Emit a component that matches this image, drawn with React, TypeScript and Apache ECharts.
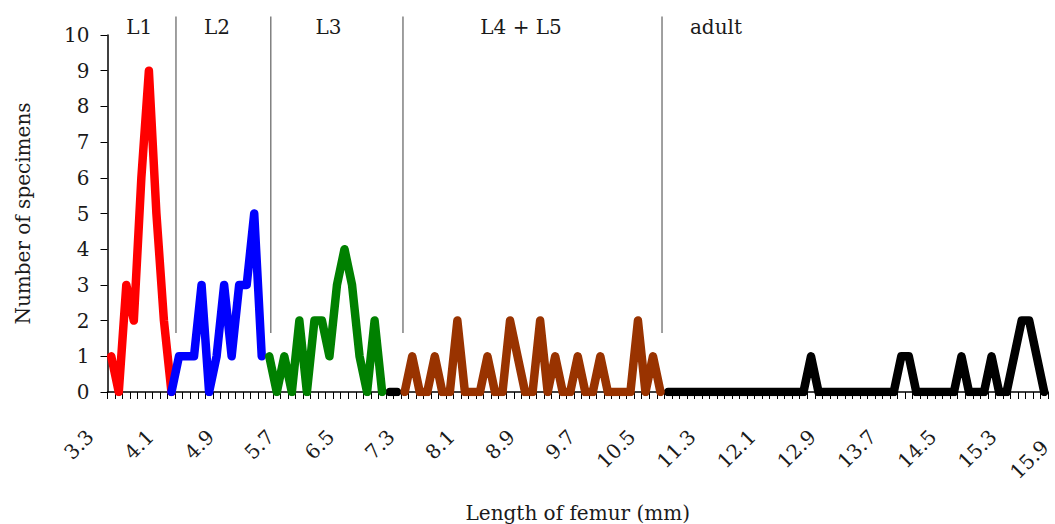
import React, { useEffect, useRef } from "react";
import * as echarts from "echarts";

// Femur length categories (mm): 3.3 … 15.6 in 0.1 mm steps, last category 15.9
const firstLength = 3.3;
const lengthStep = 0.1;
const regularCount = 124;
const lastLength = "15.9";
const categories: string[] = Array.from({ length: regularCount }, (_, i) =>
  (firstLength + lengthStep * i).toFixed(1)
).concat([lastLength]);

// Number of specimens per length, per stage (start = category index)
const l1Start = 0;
const l1Counts = [1, 0, 3, 2, 6, 9, 5, 2, 0];
const l2Start = 8;
const l2Counts = [0, 1, 1, 1, 3, 0, 1, 3, 1, 3, 3, 5, 1];
const l3Start = 21;
const l3Counts = [1, 0, 1, 0, 2, 0, 2, 2, 1, 3, 4, 3, 1, 0, 2, 0];
const l45Start = 39;
const l45Counts = [0, 1, 0, 0, 1, 0, 0, 2, 0, 0, 0, 1, 0, 0, 2, 1, 0, 0, 2, 0, 1, 0, 0, 1, 0, 0, 1, 0, 0, 0, 0, 2, 0, 1, 0];
const gapStart = 37;
const gapCounts = [0, 0];
const adultStart = 74;
const adultCounts = [
  0, 0, 0, 0, 0, 0, 0, 0, 0, 0, 0, 0, 0, 0, 0, 0, 0, 0, 0, 1, 0, 0, 0, 0, 0, 0, 0, 0, 0, 0, 0, 1, 1, 0, 0, 0, 0, 0, 0,
  1, 0, 0, 0, 1, 0, 0, 1, 2, 2, 1, 0,
];

// Stage annotations (positions in category-slot units from the axis start)
const stageNames = ["L1", "L2", "L3", "L4 + L5", "adult"];
const stageLabelSlots = [4.21, 14.55, 29.37, 54.96, 80.87];
const stageBoundarySlots = [9.1, 21.7, 39.27, 73.7];

const FONT = '"DejaVu Serif", "Liberation Serif", serif';

function place(parts: Array<[number, number[]]>): (number | null)[] {
  const arr: (number | null)[] = categories.map(() => null);
  parts.forEach(([start, vals]) => vals.forEach((v, k) => (arr[start + k] = v)));
  return arr;
}

function lineSeries(name: string, color: string, data: (number | null)[]) {
  return {
    name,
    type: "line",
    data,
    showSymbol: false,
    symbol: "none",
    connectNulls: false,
    lineStyle: { color, width: 8.5, cap: "round", join: "round" },
    itemStyle: { color },
  };
}

export default function App() {
  const ref = useRef<HTMLDivElement>(null);
  useEffect(() => {
    if (!ref.current) return;
    const chart = echarts.init(ref.current, null, { renderer: "svg" });
    const lastIndex = categories.length - 1;
    const option: any = {
      animation: false,
      backgroundColor: "#ffffff",
      grid: {
        left: 107.5,
        right: 7,
        top: 35,
        bottom: 132,
        containLabel: false,
        outerBoundsMode: "none",
      },
      xAxis: {
        type: "category",
        data: categories,
        boundaryGap: true,
        name: "Length of femur (mm)",
        nameLocation: "middle",
        nameGap: 111,
        nameTextStyle: { fontFamily: FONT, fontSize: 20, color: "#1a1a1a" },
        axisLine: { lineStyle: { color: "#000", width: 1.5 } },
        axisTick: { show: true, interval: 0, length: 7, lineStyle: { color: "#000", width: 1 } },
        axisLabel: {
          interval: (i: number) => i % 8 === 0 || i === lastIndex,
          rotate: 45,
          margin: 20,
          padding: [0, 30, 0, 0],
          fontFamily: FONT,
          fontSize: 20,
          color: "#1a1a1a",
          formatter: (v: string, i: number) => (i === lastIndex ? `{last|${v}}` : v),
          rich: {
            last: { fontFamily: FONT, fontSize: 20, color: "#1a1a1a", padding: [46, -8, 0, 0] },
          },
        },
        splitLine: { show: false },
      },
      yAxis: {
        type: "value",
        min: 0,
        max: 10,
        interval: 1,
        name: "Number of specimens",
        nameLocation: "middle",
        nameGap: 75,
        nameTextStyle: { fontFamily: FONT, fontSize: 20, color: "#1a1a1a" },
        axisLine: { show: true, lineStyle: { color: "#000", width: 1.5 } },
        axisTick: { show: true, length: 7, lineStyle: { color: "#000", width: 1 } },
        axisLabel: { margin: 18, fontFamily: FONT, fontSize: 20, color: "#1a1a1a" },
        splitLine: { show: false },
      },
      series: [
        lineSeries("adult", "#000000", place([[gapStart, gapCounts], [adultStart, adultCounts]])),
        lineSeries("L1", "#ff0000", place([[l1Start, l1Counts]])),
        lineSeries("L2", "#0000ff", place([[l2Start, l2Counts]])),
        lineSeries("L3", "#008000", place([[l3Start, l3Counts]])),
        lineSeries("L4 + L5", "#993300", place([[l45Start, l45Counts]])),
      ],
    };
    chart.setOption(option);

    const c0 = chart.convertToPixel({ xAxisIndex: 0 }, 0) as number;
    const c1 = chart.convertToPixel({ xAxisIndex: 0 }, 1) as number;
    const step = c1 - c0;
    const xAt = (u: number) => c0 - step / 2 + u * step;
    const yAt = (v: number) => chart.convertToPixel({ yAxisIndex: 0 }, v) as number;
    const yTop = yAt(10.52);
    const yBottom = yAt(1.65);
    const yLabel = yAt(10.22);

    const graphics: any[] = [];
    stageBoundarySlots.forEach((u) => {
      const x = xAt(u);
      graphics.push({
        type: "line",
        shape: { x1: x, y1: yTop, x2: x, y2: yBottom },
        style: { stroke: "#808080", lineWidth: 1.5 },
        silent: true,
      });
    });
    stageNames.forEach((name, k) => {
      graphics.push({
        type: "text",
        x: xAt(stageLabelSlots[k]),
        y: yLabel,
        style: {
          text: name,
          fontFamily: FONT,
          fontSize: 20,
          fill: "#1a1a1a",
          align: "center",
          verticalAlign: "middle",
        },
        silent: true,
      });
    });
    chart.setOption({ graphic: graphics });

    return () => chart.dispose();
  }, []);

  return (
    <div
      ref={ref}
      style={{ position: "fixed", left: 0, top: 0, width: 1055, height: 524, background: "#fff" }}
    />
  );
}
